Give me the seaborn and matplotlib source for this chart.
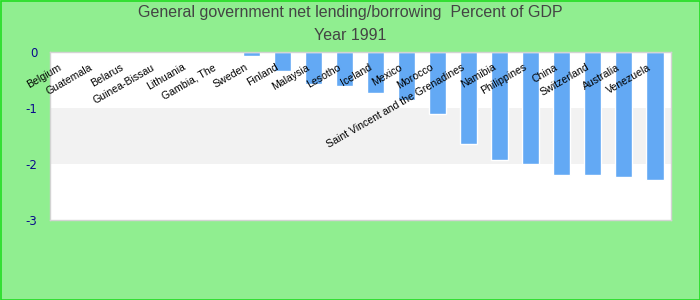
import matplotlib
matplotlib.use("Agg")
import matplotlib.pyplot as plt
import matplotlib.transforms as mtransforms
import seaborn as sns
import pandas as pd

countries = ["Belgium", "Guatemala", "Belarus", "Guinea-Bissau", "Lithuania",
             "Gambia, The", "Sweden", "Finland", "Malaysia", "Lesotho", "Iceland",
             "Mexico", "Morocco", "Saint Vincent and the Grenadines", "Namibia",
             "Philippines", "China", "Switzerland", "Australia", "Venezuela"]
values = [0.0, 0.0, 0.0, 0.0, 0.0, 0.0, -0.07, -0.34, -0.57, -0.61, -0.73,
          -0.86, -1.12, -1.64, -1.93, -2.0, -2.21, -2.21, -2.23, -2.29]
yticks = [0, -1, -2, -3]
title_lines = ["General government net lending/borrowing  Percent of GDP", "Year 1991"]

sns.set_theme(style="white")
plt.rcParams["font.family"] = ["Liberation Sans", "DejaVu Sans"]
plt.rcParams["axes.unicode_minus"] = False

df = pd.DataFrame({"country": countries, "value": values})

fig = plt.figure(figsize=(7, 3), dpi=100, facecolor="#90EE90")
ax = fig.add_axes([50 / 700, 1 - 219.7 / 300, 620.5 / 700, 168 / 300])
ax.set_facecolor("white")
ax.axhspan(-2, -1, color="#F2F2F2", zorder=0, lw=0)

sns.barplot(data=df, x="country", y="value", color="#63A9F4", saturation=1,
            width=0.55, ax=ax, zorder=2)
ax.set_axisbelow(False)

ax.set_ylim(-3, 0)
ax.set_xlim(-0.5, len(countries) - 0.5)
ax.set_yticks(yticks)
ax.set_yticklabels([str(v) for v in yticks], color="#0A0A8C", fontsize=8.5,
                   family=["DejaVu Sans"])
ax.tick_params(axis="y", length=0, pad=9)
ax.set_xlabel("")
ax.set_ylabel("")

ax.xaxis.tick_top()
ax.xaxis.set_zorder(5)
ax.tick_params(axis="x", length=0, pad=-12)
shift = mtransforms.ScaledTranslation(-5 / 100, 2 / 100, fig.dpi_scale_trans)
for lab in ax.get_xticklabels():
    lab.set_rotation(30)
    lab.set_ha("right")
    lab.set_va("center")
    lab.set_rotation_mode("anchor")
    lab.set_fontsize(7.6)
    lab.set_color("#000000")
    lab.set_transform(lab.get_transform() + shift)

for s in ax.spines.values():
    s.set_color("#D3D3D3")
    s.set_linewidth(1)
    s.set_visible(True)

fig.text(0.5, 1 - 13 / 300, title_lines[0], ha="center", va="center",
         fontsize=11.5, color="#444444")
fig.text(0.5, 1 - 35 / 300, title_lines[1], ha="center", va="center",
         fontsize=11.5, color="#444444")

border = plt.Rectangle((0.5 / 700, 0.5 / 300), 699 / 700, 299 / 300,
                       transform=fig.transFigure, fill=False,
                       edgecolor="#22DD22", lw=1.2)
fig.patches.append(border)

fig.savefig("out.png", dpi=100, facecolor=fig.get_facecolor())
